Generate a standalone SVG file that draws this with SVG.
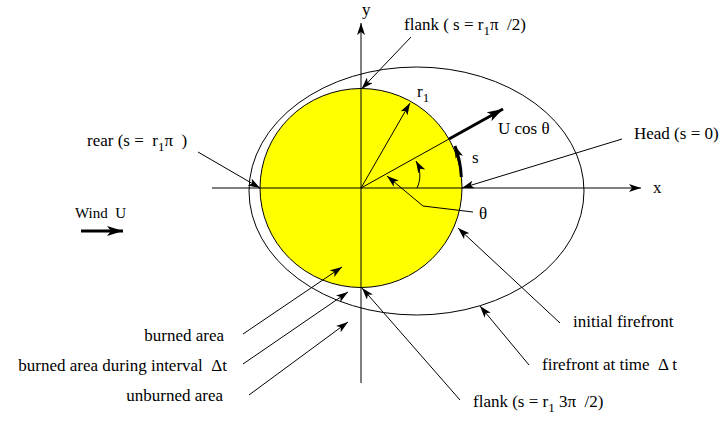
<svg xmlns="http://www.w3.org/2000/svg" width="723" height="421" viewBox="0 0 723 421">
<defs>
<style>
text{font-family:"Liberation Serif","Times New Roman",serif;font-size:17px;fill:#000;white-space:pre}
.sub{font-size:13px}
.l{stroke:#000;stroke-width:1;fill:none}
.t{stroke:#000;stroke-width:3;fill:none}
</style>
<marker id="ah" viewBox="0 0 12 8" refX="12" refY="4" markerWidth="12" markerHeight="8" orient="auto" markerUnits="userSpaceOnUse"><path d="M0,0 L12,4 L0,8 L3,4 Z" fill="#000"/></marker>
<marker id="ahb" viewBox="0 0 16 10" refX="16" refY="5" markerWidth="16" markerHeight="10" orient="auto" markerUnits="userSpaceOnUse"><path d="M0,0 L16,5 L0,10 L4,5 Z" fill="#000"/></marker>
</defs>
<rect width="723" height="421" fill="#fff"/>
<g id="firefront-outer"><ellipse cx="416.5" cy="191" rx="167.5" ry="124" class="l"/></g>
<g id="burned-area"><ellipse cx="361" cy="188" rx="101" ry="99.5" fill="#ffff00" stroke="#000" stroke-width="1"/></g>
<g id="axes">
<line x1="212" y1="188" x2="641" y2="188" class="l" marker-end="url(#ah)"/>
<line x1="361" y1="383" x2="361" y2="23" class="l" marker-end="url(#ah)"/>
<text x="653" y="193">x</text>
<text x="362" y="15">y</text>
</g>
<g id="connectors">
<line x1="361" y1="188" x2="410" y2="103" class="l" marker-end="url(#ah)"/>
<line x1="361" y1="188" x2="449" y2="139" class="l"/>
<line x1="449" y1="139" x2="503" y2="109" class="t" marker-end="url(#ahb)"/>
<path d="M461.3,177 A101,99.5 0 0 0 455,146" class="t" marker-end="url(#ah)"/>
<path d="M417,188 C421,180 421,170 416,161" class="l" marker-end="url(#ah)"/>
<polyline points="473,212 423,206 387,176" class="l" marker-end="url(#ah)"/>
<line x1="411" y1="37" x2="361.5" y2="89" class="l" marker-end="url(#ah)"/>
<line x1="198" y1="152" x2="260" y2="188" class="l" marker-end="url(#ah)"/>
<line x1="622" y1="139" x2="462" y2="188" class="l" marker-end="url(#ah)"/>
<line x1="560" y1="323" x2="458" y2="228" class="l" marker-end="url(#ah)"/>
<line x1="529" y1="365" x2="480" y2="306" class="l" marker-end="url(#ah)"/>
<line x1="460" y1="400" x2="362" y2="288" class="l" marker-end="url(#ah)"/>
<line x1="243" y1="334" x2="342" y2="267" class="l" marker-end="url(#ah)"/>
<line x1="243" y1="364" x2="348" y2="292" class="l" marker-end="url(#ah)"/>
<line x1="249" y1="395" x2="348" y2="322" class="l" marker-end="url(#ah)"/>
<line x1="81" y1="231" x2="123" y2="231" class="t" marker-end="url(#ahb)"/>
</g>
<g id="labels">
<text x="404" y="30">flank ( s = r<tspan class="sub" dy="5">1</tspan><tspan dy="-5">π  /2)</tspan></text>
<text x="417" y="97">r<tspan class="sub" dy="5">1</tspan></text>
<text x="498" y="134">U cos θ</text>
<text x="472" y="163">s</text>
<text x="479" y="219">θ</text>
<text x="634" y="139">Head (s = 0)</text>
<text x="87" y="146">rear (s =  r<tspan class="sub" dy="5">1</tspan><tspan dy="-5">π  )</tspan></text>
<text x="75" y="218" style="font-size:15px">Wind  U</text>
<text x="573" y="327">initial firefront</text>
<text x="542" y="370">firefront at time  Δ t</text>
<text x="473" y="407">flank (s = r<tspan class="sub" dy="5">1</tspan><tspan dy="-5"> 3π  /2)</tspan></text>
<text x="224" y="341" text-anchor="end">burned area</text>
<text x="227" y="371" text-anchor="end">burned area during interval  Δt</text>
<text x="223" y="401" text-anchor="end">unburned area</text>
</g>
</svg>
